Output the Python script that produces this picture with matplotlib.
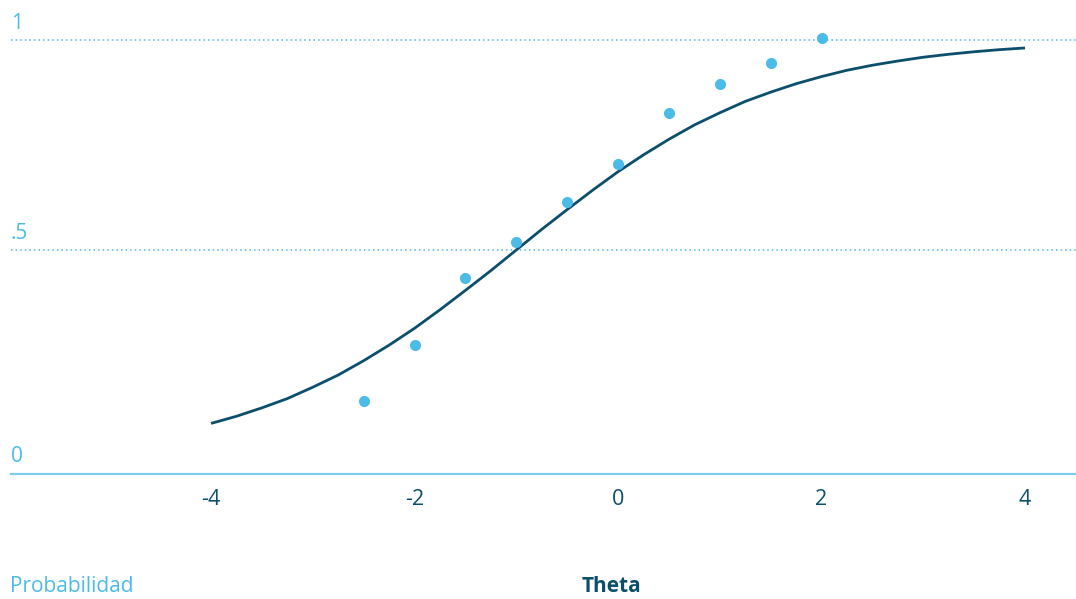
import matplotlib
matplotlib.use("Agg")
import matplotlib.pyplot as plt
import matplotlib.transforms as mtransforms

# ---- data ----
theta_points = [-2.5, -2.0, -1.5, -1.0, -0.5, 0.0, 0.5, 1.0, 1.5, 2.0]
prob_points = [0.141, 0.275, 0.433, 0.519, 0.614, 0.704, 0.825, 0.895, 0.944, 1.003]

theta_curve = [-4.0, -3.75, -3.5, -3.25, -3.0, -2.75, -2.5, -2.25, -2.0, -1.75, -1.5,
               -1.25, -1.0, -0.75, -0.5, -0.25, 0.0, 0.25, 0.5, 0.75, 1.0, 1.25,
               1.5, 1.75, 2.0, 2.25, 2.5, 2.75, 3.0, 3.25, 3.5, 3.75, 4.0]
prob_curve = [0.088, 0.105, 0.125, 0.147, 0.174, 0.203, 0.237, 0.274, 0.314, 0.358, 0.404,
              0.451, 0.500, 0.549, 0.596, 0.642, 0.686, 0.726, 0.763, 0.797, 0.826, 0.853,
              0.875, 0.895, 0.912, 0.927, 0.939, 0.949, 0.958, 0.965, 0.971, 0.976, 0.980]

x_ticks = [-4, -2, 0, 2, 4]
x_tick_labels = ["-4", "-2", "0", "2", "4"]
y_tick_labels = ["0", ".5", "1"]
grid_levels = [0.5, 1]

y_title = "Probabilidad"
x_title = "Theta"

DARK = "#0b4f6c"
LIGHT = "#4bbbe8"
AXIS = "#7fcdee"
FONT = ["Open Sans", "DejaVu Sans"]

W, H = 1076, 599
fig = plt.figure(figsize=(W / 100, H / 100), dpi=100)
ax_left = 11 / W
ax_bottom = (H - 473.5) / H
ax_top = 1 - 18.5 / H
ax = fig.add_axes([ax_left, ax_bottom, 1 - ax_left, ax_top - ax_bottom])
ax.set_xlim(-5.966, 4.501)
ax.set_ylim(-0.031, 1.05)

for s in ["top", "right", "left"]:
    ax.spines[s].set_visible(False)
ax.spines["bottom"].set_color(AXIS)
ax.spines["bottom"].set_linewidth(1.6)

for g in grid_levels:
    ax.axhline(g, color=LIGHT, lw=1.1, linestyle=(0, (1, 2)), zorder=1)

ax.plot(theta_curve, prob_curve, color=DARK, lw=2.0, zorder=3,
        solid_capstyle="butt")
ax.plot(theta_points, prob_points, linestyle="none", marker="o", markersize=8,
        markerfacecolor=LIGHT, markeredgecolor="none", zorder=4)

ax.set_xticks(x_ticks)
ax.set_xticklabels(x_tick_labels, fontfamily=FONT, fontsize=15.5, color=DARK)
ax.tick_params(axis="x", length=0, pad=11)
ax.set_yticks([])

# y labels: "0" sits on the axis line, the others on their grid lines
trans = mtransforms.blended_transform_factory(ax.transAxes, ax.transData)
label_trans = [mtransforms.offset_copy(ax.transAxes, fig=fig, x=0, y=12, units="dots")]
label_pos = [(0.0, 0.0)]
for g in grid_levels:
    label_trans.append(mtransforms.offset_copy(trans, fig=fig, x=0, y=11, units="dots"))
    label_pos.append((0.0, g))
for (px, py), tr, lab in zip(label_pos, label_trans, y_tick_labels):
    ax.text(px, py, lab, transform=tr, ha="left", va="baseline",
            fontsize=15, color=LIGHT, fontfamily=FONT)

fig.text(10 / W, 1 - 592 / H, y_title, ha="left", va="baseline",
         fontsize=15, color=LIGHT, fontfamily=FONT)
fig.text(611 / W, 1 - 592 / H, x_title, ha="center", va="baseline",
         fontsize=15, color=DARK, fontweight="bold", fontfamily=FONT)

fig.savefig("out.png", dpi=100)
